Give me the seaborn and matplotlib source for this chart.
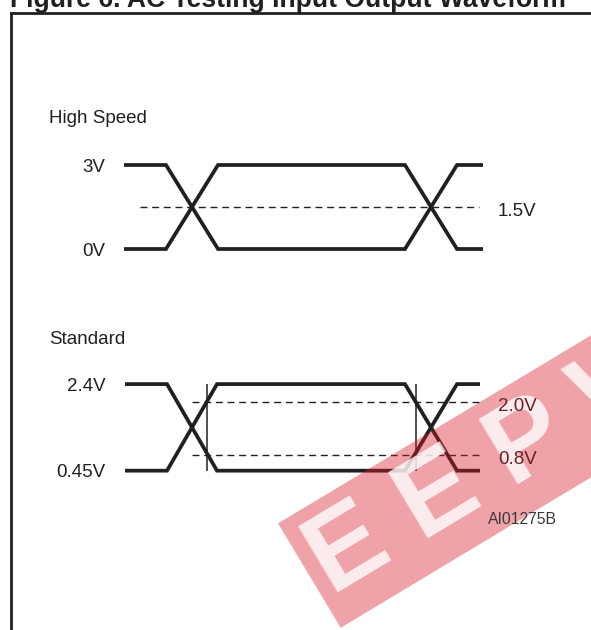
import numpy as np
import pandas as pd
import matplotlib
matplotlib.use("Agg")
import matplotlib.pyplot as plt
import seaborn as sns

# time axis in arbitrary units (10 px per unit), voltage in volts
t_fast = [0, 4.2, 9.4, 28.1, 33.3, 35.9]
v_fast_a = [3, 3, 0, 0, 3, 3]
v_fast_b = [0, 0, 3, 3, 0, 0]
fast_ticks = [0, 3]
fast_tick_labels = ["0V", "3V"]
fast_ref = 1.5
fast_ref_label = "1.5V"
fast_dash_span = [1.6, 35.5]

t_std = [0.1, 4.3, 9.3, 28.1, 33.3, 35.6]
v_std_a = [2.4, 2.4, 0.45, 0.45, 2.4, 2.4]
v_std_b = [0.45, 0.45, 2.4, 2.4, 0.45, 0.45]
std_ticks = [0.45, 2.4]
std_tick_labels = ["0.45V", "2.4V"]
std_refs = [2.0, 0.8]
std_ref_labels = ["2.0V", "0.8V"]
std_dash_span = [6.8, 35.9]

INK = "#231f20"
TINT = "#6c1f25"   # ink seen through the red watermark
W, H = 591, 630


def fx(px):
    return px / W


def fy(py):
    return 1 - py / H


def waveform(ax, t, va, vb):
    df = pd.concat([
        pd.DataFrame({"t": t, "v": va, "trace": "a"}),
        pd.DataFrame({"t": t, "v": vb, "trace": "b"}),
    ])
    sns.lineplot(data=df, x="t", y="v", units="trace", estimator=None,
                 sort=False, color=INK, lw=2.7, ax=ax,
                 solid_joinstyle="miter", solid_capstyle="butt")
    for ln in ax.lines:
        ln.set_clip_on(False)


def ref_label(ax, y, text, color=INK, z=3):
    # figure-level text placed in the axes' data coordinates
    t = fig.text(37.4, y, text, transform=ax.transData, fontsize=13.5,
                 color=color, va="baseline", zorder=z)
    t.set_transform(ax.transData + matplotlib.transforms.ScaledTranslation(
        0, -6.7 / 72, fig.dpi_scale_trans))


def style_axes(ax, ticks, labels):
    ax.set_xlim(0, 36)
    ax.set_yticks(ticks)
    ax.set_yticklabels(labels)
    ax.tick_params(axis="y", length=0, pad=13.5, labelsize=13.5, labelcolor=INK)
    ax.set_xticks([])
    ax.set_xlabel("")
    ax.set_ylabel("")
    sns.despine(ax=ax, left=True, bottom=True)
    ax.patch.set_alpha(0)


sns.set_style("white")
plt.rcParams["font.family"] = ["Liberation Sans", "DejaVu Sans"]

fig = plt.figure(figsize=(5.91, 6.30), dpi=100)

# frame: left and top edges only
bg = fig.add_axes([fx(10.7), 0, 1 - fx(10.7), fy(13.3)])
bg.set_xticks([])
bg.set_yticks([])
for side in ["right", "bottom"]:
    bg.spines[side].set_visible(False)
for side in ["left", "top"]:
    bg.spines[side].set_linewidth(2.0)
    bg.spines[side].set_color(INK)

fig.text(fx(10), fy(7.3), "Figure 6. AC Testing Input Output Waveform",
         fontsize=19.1, fontweight="bold", color=INK, va="baseline")

# high speed
fig.text(fx(49), fy(123), "High Speed", fontsize=13.5, color=INK, va="baseline")
ax1 = fig.add_axes([fx(124), fy(263), 360 / W, 112 / H])
ax1.set_ylim(-0.5, 3.5)
waveform(ax1, t_fast, v_fast_a, v_fast_b)
ax1.hlines(fast_ref, fast_dash_span[0], fast_dash_span[1], color=INK, lw=1.0,
           linestyle=(0, (5, 3.4)), clip_on=False)
style_axes(ax1, fast_ticks, fast_tick_labels)
ref_label(ax1, fast_ref, fast_ref_label)

# standard
fig.text(fx(49), fy(344), "Standard", fontsize=13.5, color=INK, va="baseline")
lo, hi = min(v_std_a), max(v_std_a)
ax2 = fig.add_axes([fx(124), fy(484), 360 / W, 111 / H])
ax2.set_ylim(lo - 0.3, hi + 0.25)
waveform(ax2, t_std, v_std_a, v_std_b)
for ref in std_refs:
    ax2.hlines(ref, std_dash_span[0], std_dash_span[1], color=INK, lw=1.0,
               linestyle=(0, (5, 3.4)), clip_on=False)

# timing markers where the edges cross the 2.0V level
frac = (std_refs[0] - lo) / (hi - lo)
t_rise = t_std[1] + frac * (t_std[2] - t_std[1])
t_fall = t_std[3] + (1 - frac) * (t_std[4] - t_std[3])
ax2.vlines([t_rise, t_fall], lo, hi, color=INK, lw=1.1, clip_on=False)
style_axes(ax2, std_ticks, std_tick_labels)
for ref, lab in zip(std_refs, std_ref_labels):
    ref_label(ax2, ref, lab, color=TINT, z=12)

fig.text(fx(488), fy(524), "AI01275B", fontsize=11.3, color="#3a3a3a",
         va="baseline", zorder=12)

# watermark
fig.text(fx(317), fy(571), "E E P W", fontsize=80, fontweight="heavy",
         color=(1, 1, 1, 0.8), rotation=31, rotation_mode="anchor",
         ha="left", va="center", zorder=10,
         bbox=dict(boxstyle="square,pad=0.08", facecolor=(0.85, 0.1, 0.15, 0.4),
                   edgecolor="none"))

fig.savefig("out.png", dpi=100)
